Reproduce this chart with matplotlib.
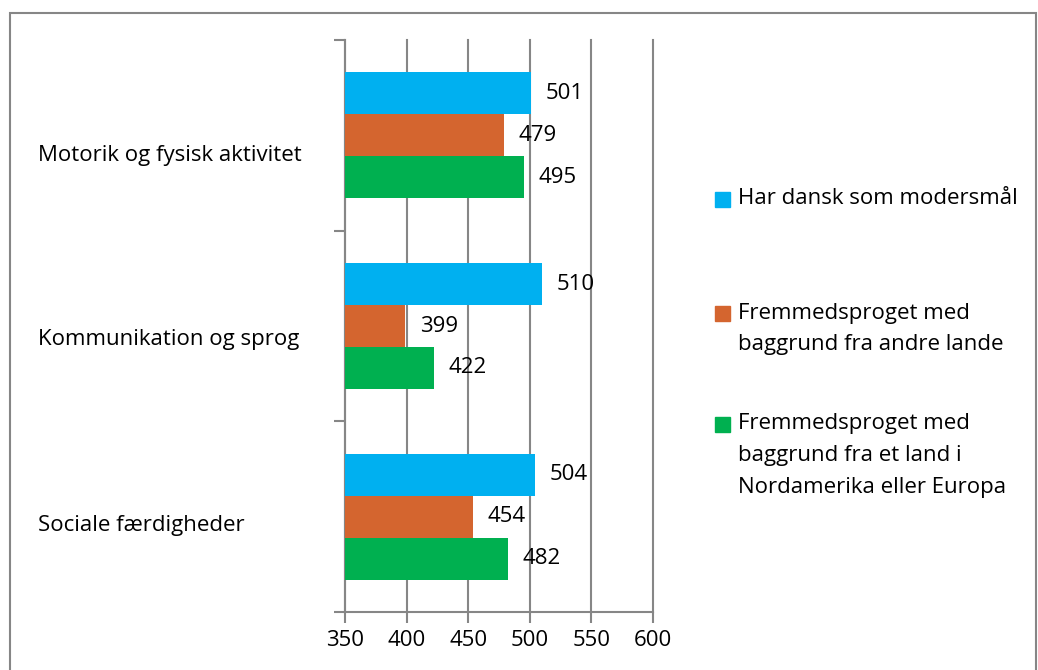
import matplotlib.pyplot as plt
import matplotlib.transforms as mtransforms
from matplotlib.patches import Rectangle

categories = ['Motorik og fysisk aktivitet', 'Kommunikation og sprog', 'Sociale færdigheder']
series_names = ['Har dansk som modersmål',
                'Fremmedsproget med\nbaggrund fra andre lande',
                'Fremmedsproget med\nbaggrund fra et land i\nNordamerika eller Europa']
dansk = [501, 510, 504]
andre = [479, 399, 454]
nordeuropa = [495, 422, 482]
xticks = [350, 400, 450, 500, 550, 600]

colors = ['#00B0F0', '#D4652F', '#00B050']
grey = '#868686'
plt.rcParams['font.family'] = ['Open Sans', 'DejaVu Sans']
fs = 16
W, H = 1038, 670

fig = plt.figure(figsize=(10.38, 6.7), dpi=100)
ax = fig.add_axes([345 / W, 58 / H, 308 / W, 572 / H])

# frame around the chart
fig.patches.append(Rectangle((10 / W, -0.1), 1026 / W, 1.1 - 13 / H,
                             transform=fig.transFigure, fill=False,
                             edgecolor=grey, linewidth=1.5))

ypos = [2, 1, 0]
h = 0.22
for i, vals in enumerate([dansk, andre, nordeuropa]):
    ys = [y + h * (1 - i) for y in ypos]
    ax.barh(ys, [v - 350 for v in vals], left=350, height=h,
            color=colors[i], zorder=3)
    for y, v in zip(ys, vals):
        ax.text(v + 12, y, str(v), va='center', ha='left', fontsize=fs, zorder=4)

ax.set_xlim(350, 600)
ax.set_ylim(-0.5, 2.5)
ax.set_xticks(xticks)
ax.set_xticklabels([str(t) for t in xticks], fontsize=fs)
ax.xaxis.grid(True, color=grey, linewidth=1.5, zorder=0)
for gl in ax.get_xgridlines():
    gl.set_clip_on(False)
ax.set_yticks([-0.5, 0.5, 1.5, 2.5])
ax.set_yticklabels([])
ax.tick_params(axis='both', color=grey, width=1.5, length=8, direction='out')
ax.tick_params(axis='x', pad=5)
for s in ['top', 'right']:
    ax.spines[s].set_visible(False)
for s in ['left', 'bottom']:
    ax.spines[s].set_color(grey)
    ax.spines[s].set_linewidth(1.5)

# category labels sit a bit below the group centre, like in Excel
label_shift = [0.105, 0.073, 0.047]
trans = mtransforms.blended_transform_factory(fig.transFigure, ax.transData)
for y, c, d in zip(ypos, categories, label_shift):
    fig.text(38 / W, y - d, c, transform=trans, va='center', ha='left', fontsize=fs)

# legend drawn by hand: square next to first line of each entry
leg_y = [199, 313, 424]
for c, name, y0 in zip(colors, series_names, leg_y):
    fig.patches.append(Rectangle((715 / W, 1 - (y0 + 7.5) / H), 15 / W, 15 / H,
                                 transform=fig.transFigure, color=c))
    for j, line in enumerate(name.split('\n')):
        fig.text(738 / W, 1 - (y0 + 31.5 * j) / H, line, va='center', ha='left',
                 fontsize=fs)

fig.savefig('out.png', dpi=100)
